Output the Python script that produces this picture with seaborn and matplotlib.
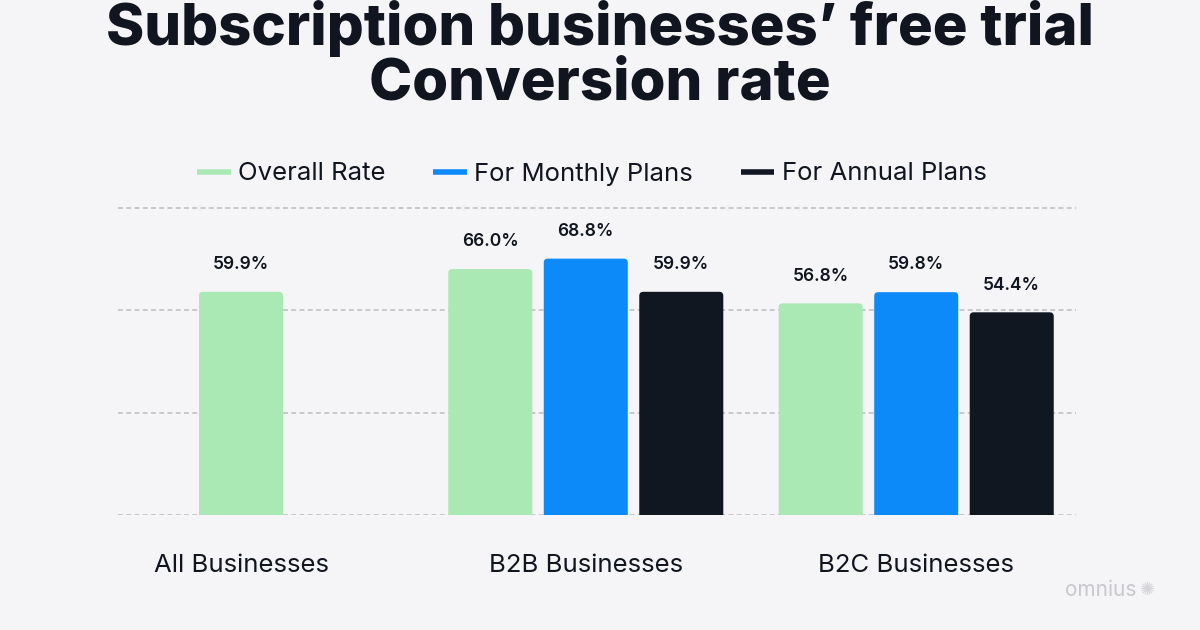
import seaborn as sns
import matplotlib.pyplot as plt
from matplotlib.lines import Line2D
from matplotlib.patches import FancyBboxPatch
import pandas as pd

categories = ["All Businesses", "B2B Businesses", "B2C Businesses"]
series = ["Overall Rate", "For Monthly Plans", "For Annual Plans"]
overall_rate = [59.9, 66.0, 56.8]
monthly_rate = [None, 68.8, 59.8]
annual_rate = [None, 59.9, 54.4]
y_ticks = [0, 27.5, 55, 82.5]

colors = ["#abe9b4", "#0d8af9", "#111721"]
bg = "#f5f5f8"
ink = "#11151f"

# group centres in "bar step" units (one bar = 1 step)
group_centers = [0.0, 3.61, 7.07]

rows = []
for i, cat in enumerate(categories):
    vals = [overall_rate[i], monthly_rate[i], annual_rate[i]]
    present = [(s, v) for s, v in zip(series, vals) if v is not None]
    n = len(present)
    for j, (s, v) in enumerate(present):
        rows.append({"category": cat, "series": s, "value": v,
                     "pos": group_centers[i] + j - (n - 1) / 2})
df = pd.DataFrame(rows)

sns.set_style("white")
plt.rcParams["font.family"] = ["Inter", "DejaVu Sans"]

fig = plt.figure(figsize=(12, 6.3), dpi=100, facecolor=bg)
ax = fig.add_axes([118 / 1200, 1 - 515 / 630, (1076 - 118) / 1200, 313 / 630])
ax.set_facecolor(bg)

sns.barplot(data=df, x="pos", y="value", hue="series", hue_order=series,
            palette=colors, native_scale=True, width=0.88, legend=False,
            saturation=1, ax=ax)

ax.set_xlim(-1.288, 8.743)
ax.set_ylim(0, 84)

for cont in ax.containers:
    ax.bar_label(cont, fmt="{:.1f}%", padding=13.5, fontsize=12.5,
                 fontweight="semibold", color=ink)

# rounded tops
r_x = 4 / 95.5
r_y = 4 / 3.73
for p in list(ax.patches):
    x, y = p.get_x(), p.get_y()
    w, h = p.get_width(), p.get_height()
    fb = FancyBboxPatch((x, y - 2 * r_y), w, h + 2 * r_y,
                        boxstyle=f"round,pad=0,rounding_size={r_x}",
                        mutation_aspect=r_y / r_x,
                        facecolor=p.get_facecolor(), edgecolor="none", zorder=2)
    p.set_visible(False)
    ax.add_patch(fb)

ax.set_yticks(y_ticks)
ax.set_yticklabels([])
ax.tick_params(axis="y", length=0)
ax.yaxis.grid(True, color="#bcbcc0", linewidth=1.1, linestyle=(0, (3.2, 2.2)))
ax.set_axisbelow(True)
ax.set_xticks(group_centers, labels=categories)
ax.tick_params(axis="x", length=0, pad=28, labelsize=18.5, labelcolor=ink)
ax.set_xlabel("")
ax.set_ylabel("")
sns.despine(ax=ax, left=True, bottom=True)

handles = [Line2D([0], [0], color=c, linewidth=4, solid_capstyle="butt") for c in colors]
fig.legend(handles, series, loc="center", bbox_to_anchor=(592 / 1200, 1 - 174 / 630),
           ncol=3, frameon=False, fontsize=18.5, handlelength=1.3,
           handletextpad=0.3, columnspacing=1.85, labelcolor=ink)

fig.text(0.5, 1 - 45 / 630, "Subscription businesses\u2019 free trial", ha="center",
         va="baseline", fontsize=41.8, fontweight="heavy", color=ink)
fig.text(0.5, 1 - 100 / 630, "Conversion rate", ha="center",
         va="baseline", fontsize=41.8, fontweight="heavy", color=ink)

fig.text(1136 / 1200, 1 - 596 / 630, "omnius", ha="right", va="baseline",
         fontsize=15, color="#c9c9cd")
fig.text(1148 / 1200, 1 - 590 / 630, "\u273a", ha="center", va="center",
         fontsize=13, color="#d6d6da", family=["DejaVu Sans"])

fig.savefig("out.png", dpi=100, facecolor=bg)
